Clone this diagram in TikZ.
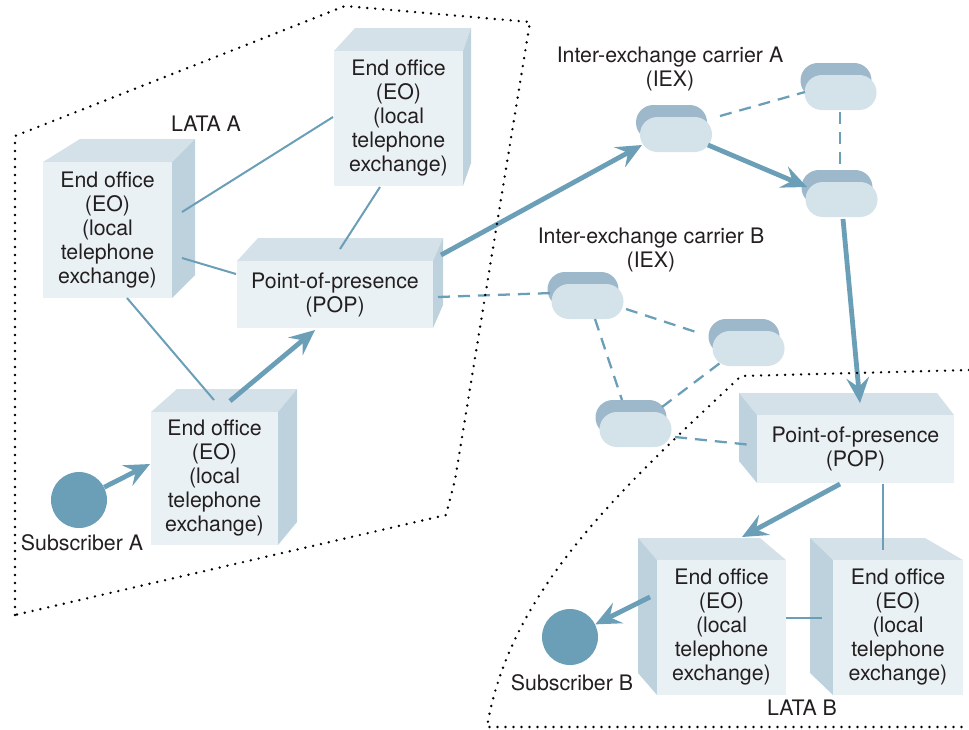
\documentclass[tikz,border=0pt]{standalone}
\usepackage{fontspec}
\setmainfont{TeX Gyre Heros}
\usetikzlibrary{arrows.meta}
\definecolor{frontc}{HTML}{EAF1F4}
\definecolor{topc}{HTML}{D4E1E9}
\definecolor{sidec}{HTML}{BED2DE}
\definecolor{linec}{HTML}{6A9FB7}
\definecolor{rback}{HTML}{9DB8CB}
\definecolor{rfront}{HTML}{D4E2EA}
\definecolor{txtc}{HTML}{231F20}
\tikzset{
  lbl/.style={text=txtc, font=\fontsize{16}{18}\selectfont, align=center, inner sep=0},
  face/.style={lbl, rectangle, fill=frontc},
  rtr/.style={rectangle, rounded corners=13pt, fill=rfront, minimum width=54pt, minimum height=26.25pt, inner sep=0},
  thinline/.style={draw=linec, line width=1.5pt},
  dashline/.style={draw=linec, line width=1.7pt, dash pattern=on 9pt off 6pt},
  bigarrow/.style={draw=linec, line width=3.6pt, -{Stealth[length=19pt,width=17pt,inset=7pt]}},
  boundary/.style={draw=black, line width=2pt, line cap=round, dash pattern=on 0pt off 6pt},
  subscr/.style={circle, fill=linec, minimum size=42pt, inner sep=0}
}
% right-extruded box: name x1 y1 x2 y2 dL dR text
\newcommand\boxR[8]{%
  \fill[topc] (#2,#3) -- ({#2+#6},{#3-23}) -- ({#4+#7},{#3-23}) -- (#4,#3) -- cycle;
  \fill[sidec] (#4,#3) -- ({#4+#7},{#3-23}) -- ({#4+#7},{#5-23}) -- (#4,#5) -- cycle;
  \node[face, minimum width={(#4-#2)*0.75pt}, minimum height={(#5-#3)*0.75pt}] (#1) at ({(#2+#4)/2},{(#3+#5)/2}) {#8};
}
% left-extruded box
\newcommand\boxL[8]{%
  \fill[topc] (#2,#3) -- ({#2-#6},{#3-22}) -- ({#4-#7},{#3-22}) -- (#4,#3) -- cycle;
  \fill[sidec] (#2,#3) -- ({#2-#6},{#3-22}) -- ({#2-#6},{#5-22}) -- (#2,#5) -- cycle;
  \node[face, minimum width={(#4-#2)*0.75pt}, minimum height={(#5-#3)*0.75pt}] (#1) at ({(#2+#4)/2},{(#3+#5)/2}) {#8};
}
\newcommand\router[3]{%
  \fill[rback, rounded corners=13pt] ({#2-40},{#3-29.5}) rectangle ({#2+31},{#3+5.5});
  \node[rtr] (#1) at (#2,#3) {};
}
\newcommand\eotext{End office\\(EO)\\(local\\telephone\\exchange)}
\begin{document}
\begin{tikzpicture}[x=0.75pt,y=-0.75pt]
\useasboundingbox (0,0) rectangle (969,729);

% LATA A boxes
\boxR{eoL}{43}{162}{172}{298}{37}{23}{\eotext}
\boxR{eoT}{334}{51}{463}{186}{21}{8}{\eotext}
\boxR{popA}{237}{261}{433}{328}{21}{10}{Point-of-presence\\(POP)}
\boxR{eoB}{151}{412}{278}{545}{26}{19}{\eotext}

% LATA B boxes
\boxL{popB}{757}{415}{954}{483}{18}{17}{Point-of-presence\\(POP)}
\boxL{eoB1}{657}{560}{786}{695}{19}{26}{\eotext}
\boxL{eoB2}{833}{560}{963}{695}{23}{38}{\eotext}

% routers
\router{rA1}{676}{134.5}
\router{rA2}{840.5}{92.5}
\router{rA3}{841.5}{199.5}
\router{rB1}{587.5}{301.5}
\router{rB2}{748.5}{348.5}
\router{rB3}{635.5}{429.5}

% subscribers
\node[subscr] (subA) at (79,500) {};
\node[subscr] (subB) at (570,637) {};

% labels
\node[lbl] (lataA) at (206,124) {LATA A};
\node[lbl] (lataB) at (802,708) {LATA B};
\node[lbl] (iexA) at (670,68.5) {Inter-exchange carrier A\\(IEX)};
\node[lbl] (iexB) at (651,249.5) {Inter-exchange carrier B\\(IEX)};
\node[lbl] (subAl) at (82,543) {Subscriber A};
\node[lbl] (subBl) at (572,683) {Subscriber B};

% connector end points
\coordinate (eoL-a) at (182,212);  \coordinate (eoT-a) at (333,117);
\coordinate (eoL-b) at (182,258);  \coordinate (popA-a) at (236,274);
\coordinate (eoT-b) at (380,187);  \coordinate (popA-b) at (340,249);
\coordinate (eoL-c) at (127,298);  \coordinate (eoB-a) at (214,400);
\coordinate (popB-a) at (883,484); \coordinate (eoB2-a) at (883,550);
\coordinate (eoB1-a) at (786,618); \coordinate (eoB2-b) at (822,618);

\coordinate (eoB-in) at (150,464);
\coordinate (eoB-out) at (230,401); \coordinate (popA-in) at (315,330);
\coordinate (popA-out) at (441,255); \coordinate (rA1-in) at (642,145);
\coordinate (rA1-out) at (708,145); \coordinate (rA3-in) at (807,187);
\coordinate (rA3-out) at (843,219); \coordinate (popB-in) at (860,403);
\coordinate (popB-out) at (840,484); \coordinate (eoB1-in) at (742,537);
\coordinate (eoB1-out) at (650,597);

\coordinate (rA1-d) at (720,116); \coordinate (rA2-d) at (805,92);
\coordinate (rA2-e) at (840,112); \coordinate (rA3-d) at (840,170);
\coordinate (popA-d) at (438,297); \coordinate (rB1-d) at (552,293);
\coordinate (rB1-e) at (626,309); \coordinate (rB2-d) at (699,333);
\coordinate (rB1-f) at (595,319); \coordinate (rB3-d) at (622,400);
\coordinate (rB3-e) at (662,407); \coordinate (rB2-e) at (720,363);
\coordinate (rB3-f) at (675,437); \coordinate (popB-d) at (752,445);

% thin links
\draw[thinline] (eoL-a) -- (eoT-a);
\draw[thinline] (eoL-b) -- (popA-a);
\draw[thinline] (eoT-b) -- (popA-b);
\draw[thinline] (eoL-c) -- (eoB-a);
\draw[thinline] (popB-a) -- (eoB2-a);
\draw[thinline] (eoB1-a) -- (eoB2-b);

% dashed links
\draw[dashline] (rA1-d) -- (rA2-d);
\draw[dashline] (rA2-e) -- (rA3-d);
\draw[dashline] (popA-d) -- (rB1-d);
\draw[dashline] (rB1-e) -- (rB2-d);
\draw[dashline] (rB1-f) -- (rB3-d);
\draw[dashline] (rB3-e) -- (rB2-e);
\draw[dashline] (rB3-f) -- (popB-d);

% call path arrows
\draw[bigarrow] (subA) -- (eoB-in);
\draw[bigarrow] (eoB-out) -- (popA-in);
\draw[bigarrow] (popA-out) -- (rA1-in);
\draw[bigarrow] (rA1-out) -- (rA3-in);
\draw[bigarrow] (rA3-out) -- (popB-in);
\draw[bigarrow] (popB-out) -- (eoB1-in);
\draw[bigarrow] (eoB1-out) -- (subB);

% LATA boundaries
\draw[boundary] (15,615) -- (15,136) -- (345,6) -- (530,22) -- (455,480) -- (446,515) -- cycle;
\draw[boundary] (969,370) -- (741,376) .. controls (620,490) and (510,590) .. (487,727) -- (969,727);
\end{tikzpicture}
\end{document}
